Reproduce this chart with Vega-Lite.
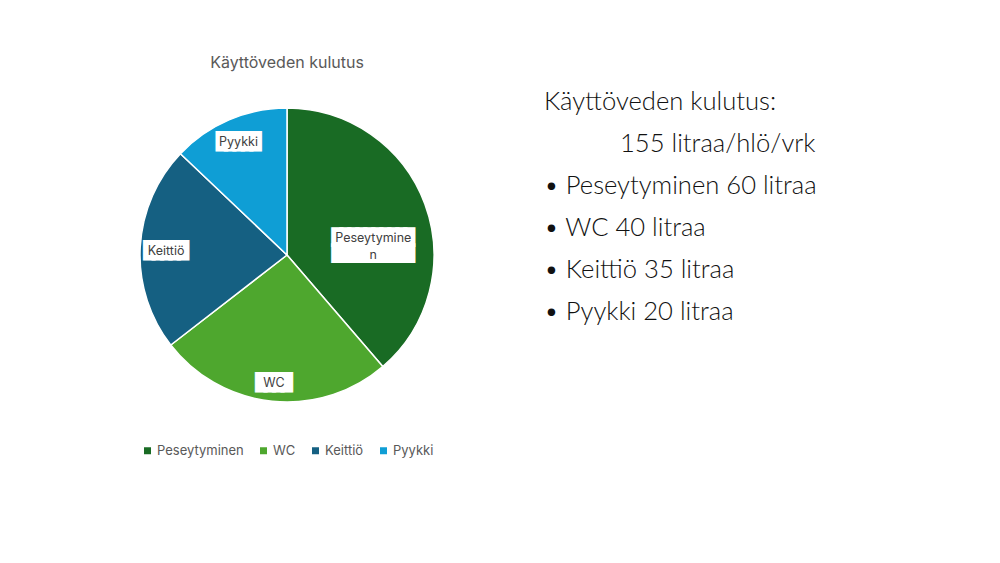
{
  "$schema": "https://vega.github.io/schema/vega-lite/v6.json",
  "padding": {"top": 55, "left": 0, "right": 0, "bottom": 0},
  "autosize": {"type": "pad"},
  "background": "white",
  "spacing": 0,
  "bounds": "flush",
  "resolve": {"scale": {"color": "independent"}, "legend": {"color": "independent"}},
  "config": {"view": {"stroke": null}, "font": "Inter", "concat": {"spacing": 0}, "legend": {"layout": {"bottom": {"anchor": "middle"}}}},
  "hconcat": [
    {
      "width": 574,
      "height": 300,
      "title": {"text": "Käyttöveden kulutus", "fontSize": 16, "fontWeight": "normal", "color": "#595959", "offset": 34},
      "data": {"values": [
        {"cat": "Peseytyminen", "label": "Peseytymine\nn", "value": 60, "rank": 1},
        {"cat": "WC", "label": "WC", "value": 40, "rank": 2},
        {"cat": "Keittiö", "label": "Keittiö", "value": 35, "rank": 3},
        {"cat": "Pyykki", "label": "Pyykki", "value": 20, "rank": 4}
      ]},
      "encoding": {
        "theta": {"field": "value", "type": "quantitative", "stack": true},
        "order": {"field": "rank", "type": "quantitative"}
      },
      "layer": [
        {
          "mark": {"type": "arc", "outerRadius": 147, "stroke": "white", "strokeWidth": 1.5},
          "encoding": {
            "color": {
              "field": "cat", "type": "nominal",
              "sort": ["Peseytyminen", "WC", "Keittiö", "Pyykki"],
              "scale": {"domain": ["Peseytyminen", "WC", "Keittiö", "Pyykki"], "range": ["#196B24", "#4EA72E", "#156082", "#0F9ED5"]},
              "legend": {"orient": "bottom", "direction": "horizontal", "title": null, "symbolType": "square", "symbolSize": 49, "symbolStrokeWidth": 0, "labelFontSize": 13, "labelColor": "#595959", "offset": 39, "columnPadding": 13, "labelOffset": 3}
            }
          }
        },
        {
          "mark": {"type": "text", "radius": 123, "text": "█████", "font": "DejaVu Sans Mono", "fontSize": 14, "fill": "white", "stroke": "white", "strokeWidth": 4, "strokeJoin": "miter"},
          "encoding": {"opacity": {"condition": {"test": "datum.cat == 'Pyykki'", "value": 1}, "value": 0}}
        },
        {
          "mark": {"type": "text", "radius": 123, "fontSize": 12.5, "fill": "#404040"},
          "encoding": {"text": {"field": "label"}, "opacity": {"condition": {"test": "datum.cat == 'Pyykki'", "value": 1}, "value": 0}}
        },
        {
          "mark": {"type": "text", "radius": 121, "dy": 2, "text": "█████", "font": "DejaVu Sans Mono", "fontSize": 14, "fill": "white", "stroke": "white", "strokeWidth": 4, "strokeJoin": "miter"},
          "encoding": {"opacity": {"condition": {"test": "datum.cat == 'Keittiö'", "value": 1}, "value": 0}}
        },
        {
          "mark": {"type": "text", "radius": 121, "dy": 2, "fontSize": 12.5, "fill": "#404040"},
          "encoding": {"text": {"field": "label"}, "opacity": {"condition": {"test": "datum.cat == 'Keittiö'", "value": 1}, "value": 0}}
        },
        {
          "mark": {"type": "text", "radius": 129, "text": "████", "font": "DejaVu Sans Mono", "fontSize": 14, "fill": "white", "stroke": "white", "strokeWidth": 4, "strokeJoin": "miter"},
          "encoding": {"opacity": {"condition": {"test": "datum.cat == 'WC'", "value": 1}, "value": 0}}
        },
        {
          "mark": {"type": "text", "radius": 129, "fontSize": 12.5, "fill": "#404040"},
          "encoding": {"text": {"field": "label"}, "opacity": {"condition": {"test": "datum.cat == 'WC'", "value": 1}, "value": 0}}
        },
        {
          "mark": {"type": "text", "radius": 92, "dy": 15, "text": ["██████████", "██████████"], "lineHeight": 15.5, "font": "DejaVu Sans Mono", "fontSize": 13.3, "fill": "white", "stroke": "white", "strokeWidth": 4, "strokeJoin": "miter"},
          "encoding": {"opacity": {"condition": {"test": "datum.cat == 'Peseytyminen'", "value": 1}, "value": 0}}
        },
        {
          "mark": {"type": "text", "radius": 92, "dy": 15, "fontSize": 12.5, "lineBreak": "\n", "lineHeight": 17, "fill": "#404040"},
          "encoding": {"text": {"field": "label"}, "opacity": {"condition": {"test": "datum.cat == 'Peseytyminen'", "value": 1}, "value": 0}}
        }
      ]
    },
    {
      "width": 426,
      "height": 210,
      "data": {"values": [
        {"line": "Käyttöveden kulutus:", "kind": "main"},
        {"line": "155 litraa/hlö/vrk", "kind": "sub"},
        {"line": "• Peseytyminen 60 litraa", "kind": "main"},
        {"line": "• WC 40 litraa", "kind": "main"},
        {"line": "• Keittiö 35 litraa", "kind": "main"},
        {"line": "• Pyykki 20 litraa", "kind": "main"}
      ]},
      "encoding": {
        "y": {"field": "line", "type": "ordinal", "sort": null, "scale": {"type": "point", "padding": 0}, "axis": null},
        "text": {"field": "line"}
      },
      "layer": [
        {
          "mark": {"type": "text", "align": "left", "baseline": "alphabetic", "font": "Lato", "fontSize": 25.6, "fontWeight": 300, "color": "#111111", "dx": -243, "dy": 5},
          "encoding": {"opacity": {"condition": {"test": "datum.kind == 'sub'", "value": 0}, "value": 1}}
        },
        {
          "mark": {"type": "text", "align": "left", "baseline": "alphabetic", "font": "Lato", "fontSize": 25.6, "fontWeight": 300, "color": "#111111", "dx": -167, "dy": 5},
          "encoding": {"opacity": {"condition": {"test": "datum.kind == 'sub'", "value": 1}, "value": 0}}
        }
      ]
    }
  ]
}
